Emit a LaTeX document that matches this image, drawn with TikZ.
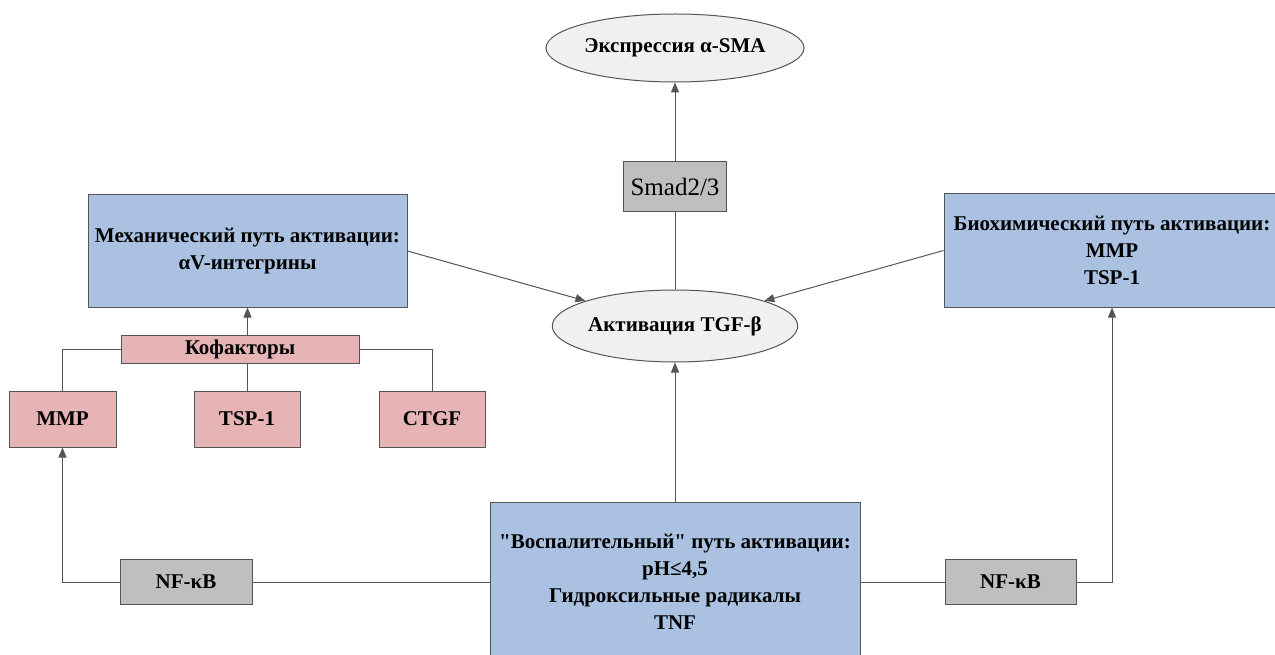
\documentclass[tikz,border=0pt]{standalone}
\usepackage{fontspec}
\setmainfont{Liberation Serif}[Ligatures=TeXOff]
\usepackage{tikz}
\usetikzlibrary{shapes}
\usetikzlibrary{arrows.meta}

\definecolor{boxblue}{RGB}{170,193,225}
\definecolor{boxpink}{RGB}{230,180,181}
\definecolor{boxgray}{RGB}{191,191,191}
\definecolor{ovalfill}{RGB}{240,240,240}
\definecolor{linegray}{RGB}{85,85,85}

\begin{document}
\begin{tikzpicture}[x=1pt,y=-1pt,
    >={Triangle[length=10pt,width=8pt]},
    box/.style={draw=linegray,line width=1pt,inner sep=0pt,align=center,
      font=\fontsize{21}{27}\selectfont\bfseries},
    bluebox/.style={box,fill=boxblue},
    pinkbox/.style={box,fill=boxpink},
    graybox/.style={box,fill=boxgray},
    oval/.style={box,ellipse,fill=ovalfill}]
        \path[use as bounding box,fill=white] (0,0) rectangle (1275,655);
        \begin{scope}
          \node[oval,minimum width=258pt,minimum height=68pt] (expr) at (675,48) {Экспрессия α-SMA};
          \node[graybox,minimum width=103pt,minimum height=50pt,font=\fontsize{25}{30}\selectfont] (smad) at (675,187) {Smad2/3};
          \node[oval,minimum width=213pt,minimum height=72pt] (tgf) at (675,326) {Активация TGF-β};
          \node[bluebox,minimum width=319pt,minimum height=112pt] (mech) at (247.5,251) {Механический путь активации:\\αV-интегрины};
          \node[bluebox,minimum width=336pt,minimum height=113pt] (bio) at (1112,250.5) {Биохимический путь активации:\\MMP\\TSP-1};
          \node[pinkbox,minimum width=238pt,minimum height=28pt] (cof) at (240,349) {Кофакторы};
          \node[pinkbox,minimum width=107pt,minimum height=56pt] (mmp) at (62.5,419) {MMP};
          \node[pinkbox,minimum width=106pt,minimum height=56pt] (tsp) at (247,419) {TSP-1};
          \node[pinkbox,minimum width=106pt,minimum height=56pt] (ctgf) at (432,419) {CTGF};
          \node[bluebox,minimum width=370pt,minimum height=160pt] (infl) at (675,582) {"Воспалительный" путь активации:\\pH≤4,5\\Гидроксильные радикалы\\TNF};
          \node[graybox,minimum width=132pt,minimum height=45pt] (nfl) at (186,582) {NF-κB};
          \node[graybox,minimum width=131pt,minimum height=45pt] (nfr) at (1010.5,582) {NF-κB};
        \end{scope}
        \begin{scope}[every edge/.style={draw=linegray,line width=1pt},
            elbow/.style={to path={-| (\tikztotarget)}}]
          \path (smad) edge[->] (expr);
          \path (tgf) edge (smad);
          \path (mech.east) edge[->] (tgf);
          \path (bio.west) edge[->] (tgf);
          \path (infl) edge[->] (tgf);
          \path (cof.north -| mech.south) edge[->] (mech);
          \path (tsp) edge (cof.south -| tsp.north);
          \path (cof.west) edge[elbow] (mmp.north);
          \path (cof.east) edge[elbow] (ctgf.north);
          \path (infl) edge (nfl);
          \path (nfl.west) edge[elbow,->] (mmp.south);
          \path (infl) edge (nfr);
          \path (nfr.east) edge[elbow,->] (bio.south);
        \end{scope}
      \end{tikzpicture}
\end{document}
